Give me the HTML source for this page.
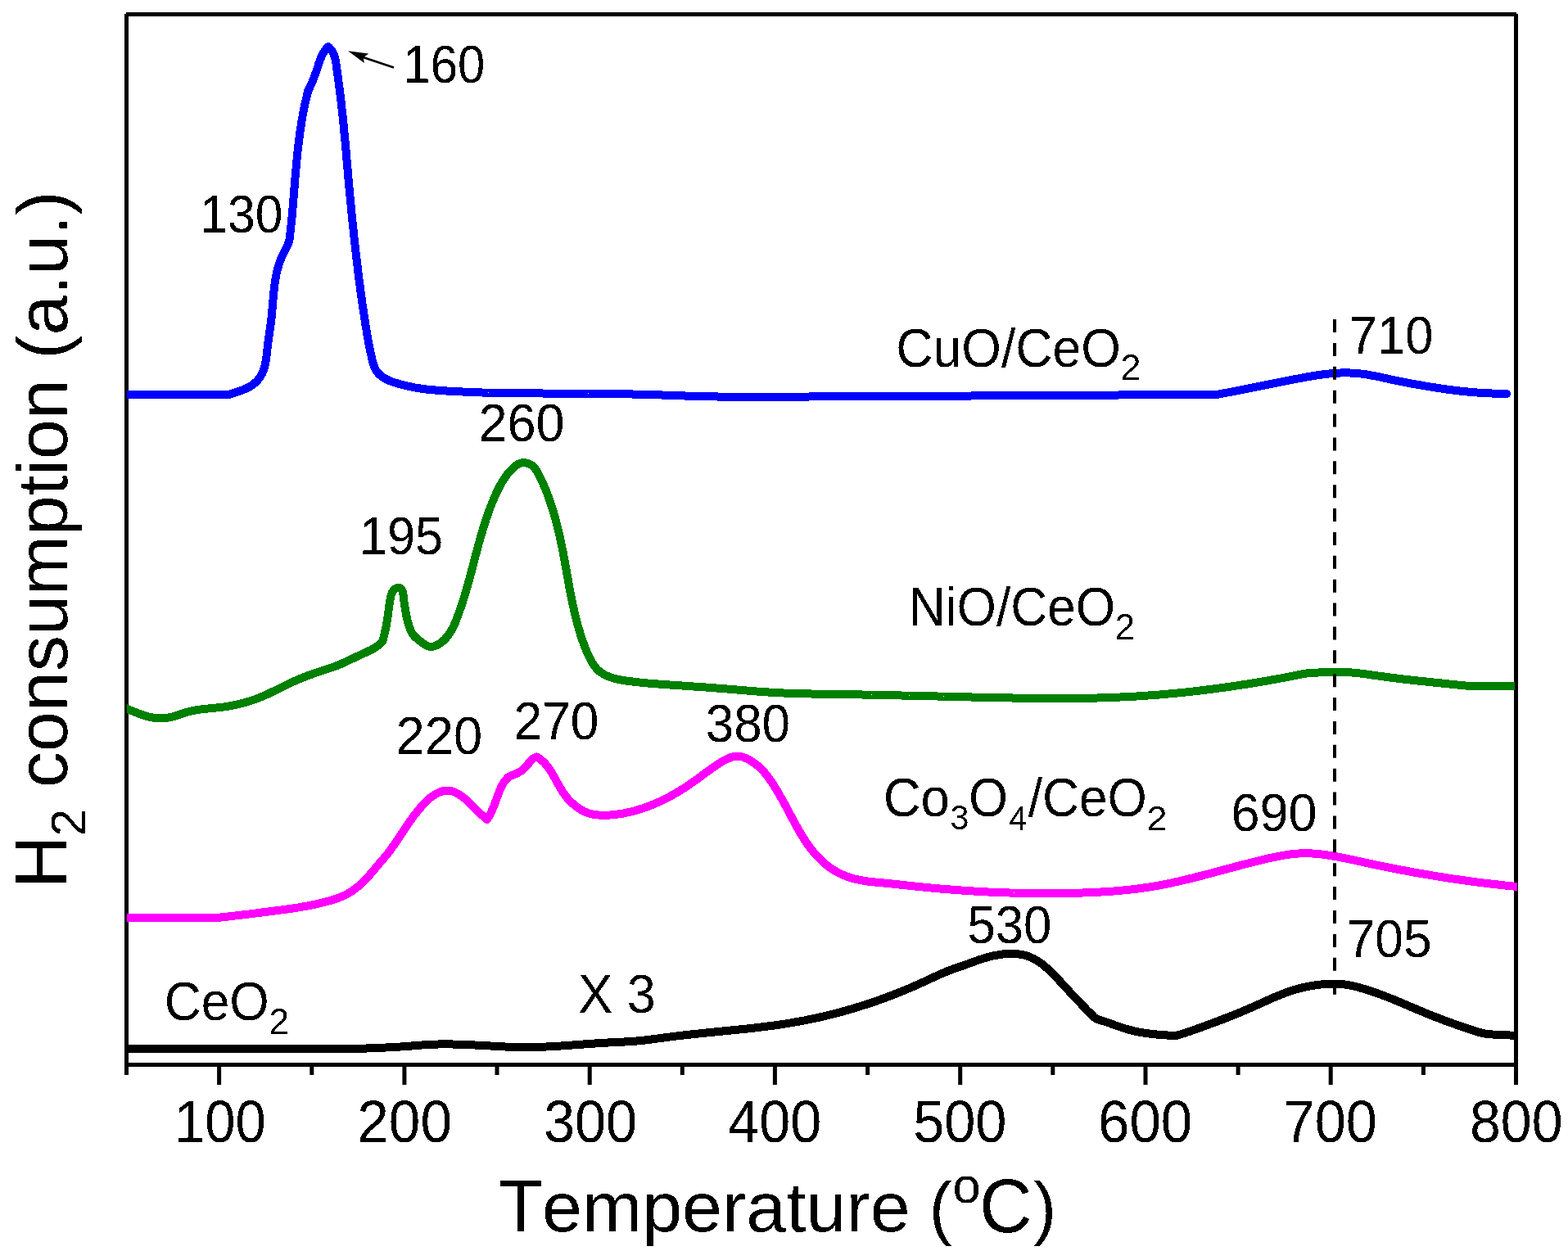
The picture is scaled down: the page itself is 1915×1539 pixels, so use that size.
<!DOCTYPE html>
<html><head><meta charset="utf-8"><title>H2-TPR</title>
<style>html,body{margin:0;padding:0;background:#fff;overflow:hidden}svg{display:block}</style>
</head><body>
<svg width="1915" height="1539" viewBox="0 0 1915 1539">
<rect width="1915" height="1539" fill="#fff"/>
<defs><filter id="bin" filterUnits="userSpaceOnUse" x="0" y="0" width="1915" height="1539"><feComponentTransfer><feFuncA type="discrete" tableValues="0 1"/></feComponentTransfer></filter><clipPath id="c"><rect x="154.8" y="15" width="1698.7" height="1288"/></clipPath></defs>
<g fill="#000">
<rect x="152" y="17" width="5" height="1296"/>
<rect x="1849" y="17" width="5" height="1308"/>
<rect x="154" y="15" width="1698" height="5"/>
<rect x="152" y="1298" width="1702" height="5"/>
<rect x="265.1" y="1300" width="5" height="25"/>
<rect x="491.4" y="1300" width="5" height="25"/>
<rect x="717.7" y="1300" width="5" height="25"/>
<rect x="943.9" y="1300" width="5" height="25"/>
<rect x="1170.2" y="1300" width="5" height="25"/>
<rect x="1396.5" y="1300" width="5" height="25"/>
<rect x="1622.7" y="1300" width="5" height="25"/>
<rect x="378.3" y="1300" width="5" height="13"/>
<rect x="604.5" y="1300" width="5" height="13"/>
<rect x="830.8" y="1300" width="5" height="13"/>
<rect x="1057.1" y="1300" width="5" height="13"/>
<rect x="1283.3" y="1300" width="5" height="13"/>
<rect x="1509.6" y="1300" width="5" height="13"/>
<rect x="1735.9" y="1300" width="5" height="13"/>
</g>
<g fill="none" stroke-width="10" stroke-linejoin="round" stroke-linecap="butt" clip-path="url(#c)" shape-rendering="crispEdges">
<path d="M150.0,481.8 152.0,481.8 153.9,481.8 155.9,481.8 157.9,481.8 159.8,481.8 161.8,481.8 163.8,481.8 165.8,481.8 167.7,481.8 169.7,481.8 171.7,481.8 173.6,481.8 175.6,481.8 177.6,481.8 179.5,481.8 181.5,481.8 183.5,481.8 185.5,481.8 187.4,481.8 189.4,481.8 191.4,481.8 193.3,481.8 195.3,481.8 197.3,481.8 199.2,481.8 201.2,481.8 203.2,481.8 205.2,481.8 207.1,481.8 209.1,481.8 211.1,481.8 213.0,481.8 215.0,481.8 217.0,481.8 218.9,481.8 220.9,481.8 222.9,481.8 224.8,481.8 226.8,481.8 228.8,481.8 230.8,481.8 232.7,481.8 234.7,481.8 236.7,481.8 238.6,481.8 240.6,481.8 242.6,481.8 244.5,481.8 246.5,481.8 248.5,481.8 250.5,481.8 252.4,481.8 254.4,481.8 256.4,481.8 258.3,481.8 260.3,481.8 262.3,481.8 264.2,481.8 266.2,481.8 268.2,481.8 270.2,481.8 272.1,481.8 274.1,481.8 276.1,481.8 278.0,481.8 280.0,481.8 281.8,481.2 283.7,480.6 285.5,480.0 287.4,479.4 289.3,478.8 291.2,478.2 293.1,477.5 295.1,476.8 296.9,476.1 298.8,475.3 300.7,474.5 302.5,473.6 304.2,472.7 305.9,471.7 307.6,470.6 309.2,469.5 310.7,468.2 312.2,466.9 313.6,465.6 314.9,464.1 316.2,462.6 317.3,461.0 318.4,459.4 319.3,457.7 320.2,456.0 321.0,454.2 321.7,452.4 322.3,450.5 322.9,448.6 323.4,446.7 323.9,444.8 324.3,442.9 324.6,440.9 324.9,438.9 325.2,436.9 325.5,435.0 325.7,433.0 326.0,431.0 326.2,429.0 326.4,427.0 326.6,425.0 326.8,423.0 327.1,421.0 327.3,419.0 327.6,417.0 327.8,415.1 328.1,413.1 328.4,411.1 328.7,409.2 329.0,407.2 329.2,405.3 329.5,403.3 329.8,401.4 330.1,399.4 330.4,397.5 330.6,395.5 330.9,393.6 331.1,391.6 331.3,389.7 331.6,387.7 331.8,385.7 332.0,383.8 332.2,381.8 332.3,379.8 332.5,377.8 332.7,375.9 332.9,373.9 333.0,371.9 333.2,369.9 333.4,367.9 333.5,366.0 333.7,364.0 333.9,362.0 334.1,360.0 334.2,358.0 334.4,356.1 334.7,354.1 334.9,352.1 335.1,350.1 335.4,348.2 335.6,346.2 335.9,344.2 336.2,342.3 336.5,340.3 336.9,338.4 337.3,336.4 337.6,334.5 338.1,332.6 338.5,330.6 339.0,328.7 339.5,326.8 340.1,324.9 340.6,323.0 341.3,321.2 341.9,319.3 342.6,317.5 343.4,315.6 344.2,313.8 345.0,312.0 345.9,310.2 346.8,308.4 347.7,306.7 348.5,304.9 349.4,303.1 350.3,301.3 351.1,299.5 351.9,297.7 352.6,295.9 353.3,294.0 353.6,292.0 353.8,290.1 354.0,288.1 354.3,286.1 354.5,284.1 354.7,282.2 355.0,280.2 355.2,278.2 355.4,276.3 355.6,274.3 355.8,272.3 356.0,270.3 356.2,268.3 356.4,266.4 356.6,264.4 356.7,262.4 356.9,260.4 357.1,258.5 357.3,256.5 357.5,254.5 357.6,252.5 357.8,250.5 358.0,248.6 358.1,246.6 358.3,244.6 358.5,242.6 358.6,240.6 358.8,238.7 358.9,236.7 359.1,234.7 359.3,232.7 359.4,230.7 359.6,228.8 359.7,226.8 359.9,224.8 360.1,222.8 360.2,220.8 360.4,218.8 360.5,216.9 360.7,214.9 360.9,212.9 361.0,210.9 361.2,208.9 361.4,207.0 361.6,205.0 361.7,203.0 361.9,201.0 362.1,199.1 362.3,197.1 362.5,195.1 362.7,193.1 362.9,191.2 363.1,189.2 363.3,187.2 363.5,185.2 363.7,183.3 363.9,181.3 364.2,179.3 364.4,177.3 364.6,175.4 364.9,173.4 365.1,171.4 365.4,169.5 365.6,167.5 365.9,165.5 366.1,163.6 366.4,161.6 366.7,159.6 367.0,157.7 367.3,155.7 367.6,153.7 367.9,151.8 368.2,149.8 368.5,147.9 368.9,145.9 369.2,144.0 369.5,142.0 369.9,140.0 370.3,138.1 370.6,136.1 371.0,134.2 371.4,132.2 371.8,130.3 372.2,128.4 372.6,126.4 373.0,124.5 373.5,122.5 373.9,120.6 374.4,118.6 374.8,116.7 375.3,114.8 375.8,112.8 376.3,110.9 377.2,109.1 378.1,107.3 378.9,105.5 379.7,103.7 380.5,101.9 381.3,100.1 382.1,98.2 382.8,96.4 383.5,94.5 384.2,92.7 384.9,90.8 385.6,88.9 386.3,87.1 386.9,85.2 387.6,83.3 388.2,81.4 388.8,79.5 389.4,77.6 390.1,75.7 390.7,73.8 391.4,72.0 392.2,70.1 393.0,68.3 393.8,66.6 394.8,64.8 395.8,63.2 396.9,61.5 398.1,60.0 399.4,58.4 400.8,57.0 402.4,58.4 403.7,59.9 405.0,61.4 406.0,63.1 406.9,64.8 407.7,66.5 408.4,68.4 408.9,70.2 409.4,72.1 409.8,74.1 410.2,76.0 410.5,78.0 410.8,80.0 411.0,82.0 411.3,84.0 411.6,86.0 411.9,88.0 412.1,90.0 412.4,92.0 412.7,94.0 413.0,95.9 413.3,97.9 413.5,99.9 413.8,101.9 414.1,103.9 414.3,105.9 414.6,107.8 414.8,109.8 415.1,111.8 415.3,113.8 415.6,115.8 415.8,117.8 416.1,119.7 416.3,121.7 416.5,123.7 416.8,125.7 417.0,127.7 417.2,129.7 417.4,131.7 417.6,133.6 417.9,135.6 418.1,137.6 418.3,139.6 418.5,141.6 418.7,143.6 418.9,145.6 419.1,147.5 419.3,149.5 419.5,151.5 419.7,153.5 419.9,155.5 420.1,157.5 420.3,159.5 420.4,161.5 420.6,163.4 420.8,165.4 421.0,167.4 421.2,169.4 421.4,171.4 421.6,173.4 421.7,175.4 421.9,177.4 422.1,179.4 422.3,181.4 422.5,183.4 422.6,185.3 422.8,187.3 423.0,189.3 423.2,191.3 423.3,193.3 423.5,195.3 423.7,197.3 423.9,199.3 424.0,201.3 424.2,203.3 424.4,205.3 424.6,207.3 424.7,209.2 424.9,211.2 425.1,213.2 425.3,215.2 425.4,217.2 425.6,219.2 425.8,221.2 426.0,223.2 426.2,225.2 426.3,227.2 426.5,229.2 426.7,231.2 426.9,233.1 427.1,235.1 427.2,237.1 427.4,239.1 427.6,241.1 427.8,243.1 428.0,245.1 428.2,247.1 428.4,249.1 428.6,251.1 428.8,253.1 429.0,255.0 429.2,257.0 429.3,259.0 429.5,261.0 429.7,263.0 429.9,265.0 430.1,267.0 430.3,269.0 430.5,271.0 430.8,272.9 431.0,274.9 431.2,276.9 431.4,278.9 431.6,280.9 431.8,282.9 432.0,284.9 432.2,286.9 432.4,288.8 432.6,290.8 432.9,292.8 433.1,294.8 433.3,296.8 433.5,298.8 433.7,300.8 434.0,302.8 434.2,304.7 434.4,306.7 434.6,308.7 434.9,310.7 435.1,312.7 435.3,314.7 435.5,316.7 435.8,318.6 436.0,320.6 436.2,322.6 436.5,324.6 436.7,326.6 437.0,328.6 437.2,330.5 437.4,332.5 437.7,334.5 437.9,336.5 438.2,338.5 438.4,340.5 438.7,342.4 438.9,344.4 439.2,346.4 439.5,348.4 439.7,350.4 440.0,352.3 440.2,354.3 440.5,356.3 440.8,358.3 441.0,360.3 441.3,362.2 441.6,364.2 441.9,366.2 442.1,368.2 442.4,370.2 442.7,372.1 443.0,374.1 443.3,376.1 443.6,378.1 443.9,380.0 444.2,382.0 444.5,384.0 444.8,386.0 445.1,387.9 445.4,389.9 445.7,391.9 446.0,393.9 446.3,395.8 446.6,397.8 446.9,399.8 447.3,401.8 447.6,403.7 447.9,405.7 448.2,407.7 448.6,409.6 448.9,411.6 449.3,413.6 449.6,415.5 450.0,417.5 450.4,419.5 450.8,421.5 451.1,423.4 451.5,425.4 451.9,427.4 452.3,429.3 452.7,431.3 453.2,433.3 453.6,435.2 454.0,437.2 454.5,439.2 455.0,441.1 455.5,443.1 456.1,445.0 456.7,446.9 457.4,448.7 458.2,450.4 459.2,452.1 460.2,453.7 461.4,455.2 462.6,456.6 464.0,458.0 465.5,459.2 467.1,460.4 468.7,461.5 470.4,462.5 472.2,463.5 474.0,464.3 475.9,465.1 477.7,465.9 479.7,466.5 481.6,467.2 483.5,467.8 485.5,468.3 487.5,468.9 489.4,469.4 491.4,469.9 493.3,470.4 495.2,470.9 497.2,471.4 499.1,471.9 501.1,472.3 503.0,472.7 505.0,473.1 506.9,473.5 508.9,473.8 510.9,474.1 512.8,474.4 514.8,474.7 516.8,475.0 518.7,475.2 520.7,475.5 522.7,475.7 524.7,475.9 526.7,476.1 528.7,476.3 530.7,476.4 532.6,476.6 534.6,476.8 536.6,476.9 538.6,477.0 540.6,477.2 542.6,477.3 544.6,477.4 546.6,477.6 548.6,477.7 550.6,477.8 552.6,477.9 554.6,478.0 556.6,478.1 558.6,478.3 560.6,478.4 562.6,478.4 564.6,478.5 566.5,478.6 568.5,478.7 570.5,478.8 572.5,478.9 574.5,479.0 576.5,479.1 578.5,479.1 580.5,479.2 582.5,479.3 584.5,479.3 586.5,479.4 588.5,479.5 590.5,479.5 592.5,479.6 594.5,479.6 596.5,479.7 598.5,479.7 600.5,479.8 602.5,479.8 604.5,479.9 606.5,479.9 608.5,479.9 610.5,480.0 612.5,480.0 614.5,480.0 616.5,480.1 618.5,480.1 620.5,480.1 622.5,480.2 624.5,480.2 626.5,480.2 628.5,480.2 630.5,480.3 632.5,480.3 634.5,480.3 636.5,480.3 638.5,480.3 640.5,480.3 642.5,480.4 644.5,480.4 646.5,480.4 648.5,480.4 650.5,480.4 652.5,480.4 654.5,480.4 656.5,480.4 658.5,480.4 660.5,480.4 662.5,480.5 664.5,480.5 666.5,480.5 668.5,480.5 670.5,480.5 672.5,480.5 674.5,480.5 676.5,480.5 678.5,480.5 680.5,480.5 682.5,480.5 684.5,480.5 686.5,480.5 688.5,480.5 690.5,480.5 692.5,480.5 694.5,480.5 696.5,480.5 698.5,480.5 700.5,480.6 702.5,480.6 704.5,480.6 706.5,480.6 708.5,480.6 710.5,480.6 712.5,480.6 714.5,480.6 716.5,480.6 718.5,480.7 720.4,480.7 722.4,480.7 724.4,480.7 726.4,480.7 728.4,480.7 730.4,480.8 732.4,480.8 734.4,480.8 736.4,480.8 738.4,480.9 740.4,480.9 742.4,480.9 744.4,480.9 746.4,481.0 748.4,481.0 750.4,481.0 752.4,481.1 754.4,481.1 756.4,481.1 758.4,481.2 760.4,481.2 762.4,481.3 764.4,481.3 766.4,481.3 768.4,481.4 770.4,481.4 772.4,481.5 774.4,481.5 776.4,481.6 778.4,481.6 780.4,481.7 782.4,481.7 784.4,481.8 786.4,481.8 788.4,481.9 790.4,481.9 792.4,482.0 794.4,482.0 796.4,482.1 798.4,482.2 800.4,482.2 802.4,482.3 804.4,482.4 806.4,482.4 808.4,482.5 810.4,482.5 812.4,482.6 814.4,482.7 816.4,482.8 818.4,482.8 820.4,482.9 822.4,483.0 824.4,483.1 826.4,483.1 828.3,483.2 830.3,483.3 832.3,483.4 834.3,483.4 836.3,483.5 838.3,483.6 840.3,483.6 842.3,483.7 844.3,483.8 846.3,483.8 848.3,483.9 850.3,484.0 852.3,484.0 854.3,484.1 856.3,484.1 858.3,484.2 860.3,484.2 862.3,484.3 864.3,484.3 866.3,484.3 868.3,484.4 870.3,484.4 872.3,484.4 874.3,484.4 876.3,484.5 878.3,484.5 880.3,484.5 882.3,484.5 884.3,484.5 886.3,484.5 888.3,484.5 890.3,484.5 892.3,484.5 894.3,484.5 896.3,484.6 898.3,484.6 900.3,484.6 902.3,484.6 904.3,484.6 906.3,484.6 908.3,484.6 910.3,484.6 912.3,484.6 914.3,484.6 916.3,484.6 918.3,484.6 920.3,484.6 922.3,484.6 924.3,484.6 926.3,484.6 928.3,484.6 930.3,484.6 932.3,484.6 934.3,484.6 936.3,484.6 938.3,484.6 940.3,484.6 942.3,484.6 944.3,484.6 946.3,484.6 948.3,484.5 950.3,484.5 952.3,484.5 954.3,484.5 956.3,484.5 958.3,484.5 960.3,484.5 962.3,484.5 964.3,484.5 966.3,484.5 968.3,484.5 970.3,484.5 972.3,484.5 974.3,484.5 976.3,484.5 978.3,484.5 980.3,484.5 982.3,484.5 984.3,484.5 986.2,484.5 988.2,484.5 990.2,484.4 992.2,484.4 994.2,484.4 996.2,484.4 998.2,484.4 1000.2,484.4 1002.2,484.4 1004.2,484.4 1006.2,484.4 1008.2,484.4 1010.2,484.4 1012.2,484.4 1014.2,484.4 1016.2,484.4 1018.2,484.3 1020.2,484.3 1022.2,484.3 1024.2,484.3 1026.2,484.3 1028.2,484.3 1030.2,484.3 1032.2,484.3 1034.2,484.3 1036.2,484.3 1038.2,484.3 1040.2,484.2 1042.2,484.2 1044.2,484.2 1046.2,484.2 1048.2,484.2 1050.2,484.2 1052.2,484.2 1054.2,484.2 1056.2,484.2 1058.2,484.2 1060.2,484.2 1062.2,484.1 1064.2,484.1 1066.2,484.1 1068.2,484.1 1070.2,484.1 1072.2,484.1 1074.2,484.1 1076.2,484.1 1078.2,484.1 1080.2,484.0 1082.2,484.0 1084.2,484.0 1086.2,484.0 1088.2,484.0 1090.2,484.0 1092.2,484.0 1094.2,484.0 1096.2,484.0 1098.2,484.0 1100.2,483.9 1102.2,483.9 1104.2,483.9 1106.2,483.9 1108.2,483.9 1110.2,483.9 1112.2,483.9 1114.2,483.9 1116.2,483.9 1118.2,483.8 1120.2,483.8 1122.2,483.8 1124.2,483.8 1126.2,483.8 1128.2,483.8 1130.2,483.8 1132.2,483.8 1134.2,483.8 1136.2,483.7 1138.2,483.7 1140.2,483.7 1142.2,483.7 1144.2,483.7 1146.2,483.7 1148.2,483.7 1150.2,483.7 1152.2,483.6 1154.2,483.6 1156.2,483.6 1158.2,483.6 1160.2,483.6 1162.2,483.6 1164.2,483.6 1166.2,483.6 1168.2,483.6 1170.2,483.5 1172.2,483.5 1174.2,483.5 1176.2,483.5 1178.2,483.5 1180.2,483.5 1182.2,483.5 1184.2,483.5 1186.2,483.5 1188.2,483.4 1190.1,483.4 1192.1,483.4 1194.1,483.4 1196.1,483.4 1198.1,483.4 1200.1,483.4 1202.1,483.4 1204.1,483.3 1206.1,483.3 1208.1,483.3 1210.1,483.3 1212.1,483.3 1214.1,483.3 1216.1,483.3 1218.1,483.3 1220.1,483.3 1222.1,483.2 1224.1,483.2 1226.1,483.2 1228.1,483.2 1230.1,483.2 1232.1,483.2 1234.1,483.2 1236.1,483.2 1238.1,483.1 1240.1,483.1 1242.1,483.1 1244.1,483.1 1246.1,483.1 1248.1,483.1 1250.1,483.1 1252.1,483.1 1254.1,483.1 1256.1,483.0 1258.1,483.0 1260.1,483.0 1262.1,483.0 1264.1,483.0 1266.1,483.0 1268.1,483.0 1270.1,483.0 1272.1,483.0 1274.1,482.9 1276.1,482.9 1278.1,482.9 1280.1,482.9 1282.1,482.9 1284.1,482.9 1286.1,482.9 1288.1,482.9 1290.1,482.9 1292.1,482.8 1294.1,482.8 1296.1,482.8 1298.1,482.8 1300.1,482.8 1302.1,482.8 1304.1,482.8 1306.1,482.8 1308.1,482.8 1310.1,482.7 1312.1,482.7 1314.1,482.7 1316.1,482.7 1318.1,482.7 1320.1,482.7 1322.1,482.7 1324.1,482.7 1326.1,482.7 1328.1,482.6 1330.1,482.6 1332.1,482.6 1334.1,482.6 1336.1,482.6 1338.1,482.6 1340.1,482.6 1342.1,482.6 1344.1,482.6 1346.1,482.6 1348.1,482.5 1350.1,482.5 1352.1,482.5 1354.1,482.5 1356.1,482.5 1358.1,482.5 1360.1,482.5 1362.1,482.5 1364.1,482.5 1366.1,482.5 1368.1,482.4 1370.1,482.4 1372.1,482.4 1374.1,482.4 1376.1,482.4 1378.1,482.4 1380.1,482.4 1382.1,482.4 1384.1,482.4 1386.0,482.4 1388.0,482.4 1390.0,482.3 1392.0,482.3 1394.0,482.3 1396.0,482.3 1398.0,482.3 1400.0,482.3 1402.0,482.3 1404.0,482.3 1406.0,482.3 1408.0,482.3 1410.0,482.3 1412.0,482.3 1414.0,482.2 1416.0,482.2 1418.0,482.2 1420.0,482.2 1422.0,482.2 1424.0,482.2 1426.0,482.2 1428.0,482.2 1430.0,482.2 1432.0,482.2 1434.0,482.2 1436.0,482.2 1438.0,482.2 1440.0,482.1 1442.0,482.1 1444.0,482.1 1446.0,482.1 1448.0,482.1 1450.0,482.1 1452.0,482.1 1454.0,482.1 1456.0,482.1 1458.0,482.1 1460.0,482.1 1462.0,482.1 1464.0,482.1 1466.0,482.1 1468.0,482.1 1470.0,482.0 1472.0,482.0 1474.0,482.0 1476.0,482.0 1478.0,482.0 1480.0,482.0 1482.0,482.0 1484.0,482.0 1486.0,482.0 1488.0,481.6 1489.9,481.3 1491.9,480.9 1493.8,480.5 1495.8,480.1 1497.8,479.7 1499.7,479.4 1501.7,479.0 1503.6,478.6 1505.6,478.2 1507.5,477.8 1509.5,477.5 1511.5,477.1 1513.4,476.7 1515.4,476.3 1517.3,475.9 1519.3,475.5 1521.2,475.1 1523.2,474.7 1525.1,474.4 1527.1,474.0 1529.0,473.6 1531.0,473.2 1532.9,472.8 1534.8,472.4 1536.8,472.0 1538.7,471.6 1540.7,471.2 1542.6,470.8 1544.6,470.5 1546.5,470.1 1548.5,469.7 1550.4,469.3 1552.4,468.9 1554.3,468.5 1556.3,468.1 1558.2,467.7 1560.2,467.3 1562.1,467.0 1564.1,466.6 1566.1,466.2 1568.0,465.8 1570.0,465.4 1571.9,465.0 1573.9,464.6 1575.8,464.3 1577.8,463.9 1579.8,463.5 1581.7,463.1 1583.7,462.7 1585.6,462.4 1587.6,462.0 1589.6,461.6 1591.5,461.3 1593.5,460.9 1595.5,460.5 1597.5,460.2 1599.4,459.8 1601.4,459.5 1603.4,459.2 1605.3,458.8 1607.3,458.5 1609.3,458.2 1611.3,457.9 1613.2,457.7 1615.2,457.4 1617.2,457.2 1619.2,456.9 1621.1,456.7 1623.1,456.5 1625.1,456.3 1627.1,456.1 1629.0,456.0 1631.0,455.8 1633.0,455.7 1635.0,455.6 1636.9,455.5 1638.9,455.4 1640.9,455.4 1642.9,455.4 1644.9,455.4 1646.8,455.4 1648.8,455.5 1650.8,455.6 1652.7,455.7 1654.7,455.8 1656.7,455.9 1658.7,456.1 1660.6,456.3 1662.6,456.6 1664.6,456.8 1666.5,457.1 1668.5,457.4 1670.5,457.7 1672.4,458.0 1674.4,458.4 1676.4,458.8 1678.3,459.1 1680.3,459.5 1682.3,459.9 1684.2,460.3 1686.2,460.7 1688.2,461.1 1690.1,461.6 1692.1,462.0 1694.0,462.4 1696.0,462.8 1698.0,463.3 1699.9,463.7 1701.9,464.1 1703.8,464.5 1705.8,464.9 1707.8,465.3 1709.7,465.7 1711.7,466.1 1713.6,466.5 1715.6,466.9 1717.5,467.3 1719.5,467.7 1721.4,468.0 1723.4,468.4 1725.3,468.8 1727.3,469.1 1729.3,469.5 1731.2,469.8 1733.2,470.2 1735.1,470.5 1737.1,470.8 1739.0,471.2 1741.0,471.5 1743.0,471.8 1744.9,472.1 1746.9,472.5 1748.9,472.8 1750.8,473.1 1752.8,473.4 1754.7,473.7 1756.7,474.0 1758.7,474.3 1760.7,474.6 1762.6,474.9 1764.6,475.2 1766.6,475.5 1768.5,475.7 1770.5,476.0 1772.5,476.3 1774.5,476.5 1776.4,476.8 1778.4,477.0 1780.4,477.3 1782.4,477.5 1784.4,477.7 1786.3,477.9 1788.3,478.1 1790.3,478.3 1792.3,478.5 1794.3,478.7 1796.2,478.9 1798.2,479.1 1800.2,479.2 1802.2,479.4 1804.2,479.5 1806.2,479.7 1808.2,479.8 1810.1,479.9 1812.1,480.0 1814.1,480.2 1816.1,480.3 1818.1,480.4 1820.1,480.4 1822.1,480.5 1824.1,480.6 1826.1,480.7 1828.0,480.7 1830.0,480.8 1832.0,480.8 1834.0,480.9 1836.0,480.9 1838.0,481.0 1840.0,481.0" stroke="#0000ff" stroke-linecap="round"/>
<path d="M150.0,863.6 151.8,864.3 153.6,865.1 155.5,865.8 157.3,866.6 159.2,867.4 161.0,868.2 162.9,868.9 164.7,869.7 166.6,870.5 168.5,871.2 170.4,871.9 172.3,872.6 174.2,873.3 176.1,873.9 178.0,874.5 179.9,875.0 181.8,875.5 183.8,876.0 185.7,876.3 187.7,876.7 189.6,876.9 191.6,877.1 193.6,877.3 195.6,877.3 197.6,877.3 199.5,877.2 201.5,877.0 203.5,876.8 205.5,876.5 207.5,876.1 209.4,875.7 211.4,875.2 213.3,874.7 215.2,874.1 217.1,873.5 219.0,872.9 220.9,872.2 222.8,871.6 224.7,871.0 226.6,870.3 228.5,869.8 230.4,869.2 232.3,868.8 234.2,868.3 236.2,867.9 238.1,867.6 240.1,867.2 242.1,866.9 244.1,866.6 246.0,866.4 248.0,866.2 250.0,865.9 252.0,865.7 254.0,865.5 256.0,865.3 258.0,865.1 260.0,864.9 262.0,864.7 264.0,864.5 266.0,864.3 268.0,864.1 269.9,863.9 271.9,863.6 273.9,863.4 275.9,863.1 277.9,862.8 279.8,862.4 281.8,862.1 283.8,861.7 285.7,861.3 287.7,860.9 289.6,860.5 291.6,860.1 293.5,859.6 295.5,859.1 297.4,858.6 299.3,858.0 301.2,857.5 303.1,856.9 305.0,856.3 306.9,855.7 308.8,855.1 310.7,854.4 312.6,853.7 314.4,853.0 316.3,852.3 318.2,851.6 320.0,850.8 321.8,850.0 323.7,849.2 325.5,848.4 327.3,847.6 329.1,846.7 330.9,845.9 332.7,845.0 334.5,844.1 336.3,843.3 338.1,842.4 339.9,841.5 341.7,840.6 343.5,839.7 345.3,838.8 347.1,837.9 348.9,837.0 350.7,836.2 352.5,835.3 354.3,834.4 356.1,833.6 357.9,832.7 359.7,831.9 361.6,831.1 363.4,830.3 365.2,829.5 367.1,828.8 368.9,828.0 370.8,827.3 372.6,826.5 374.5,825.8 376.4,825.1 378.2,824.4 380.1,823.8 382.0,823.1 383.9,822.4 385.8,821.8 387.7,821.1 389.6,820.5 391.5,819.8 393.4,819.2 395.3,818.6 397.2,817.9 399.1,817.3 401.0,816.7 402.9,816.1 404.7,815.4 406.6,814.8 408.5,814.1 410.4,813.4 412.3,812.7 414.1,812.0 416.0,811.2 417.8,810.4 419.6,809.6 421.4,808.8 423.2,807.9 425.0,807.1 426.8,806.2 428.6,805.3 430.4,804.5 432.2,803.6 434.0,802.7 435.9,801.9 437.7,801.1 439.5,800.2 441.3,799.4 443.1,798.5 444.9,797.7 446.8,796.9 448.6,796.0 450.4,795.1 452.2,794.3 453.9,793.4 455.7,792.4 457.4,791.4 459.1,790.4 460.8,789.3 462.4,788.1 463.9,786.8 465.4,785.5 466.8,784.0 467.4,782.1 468.0,780.2 468.5,778.2 469.0,776.3 469.5,774.4 470.0,772.5 470.4,770.5 470.8,768.6 471.2,766.7 471.6,764.8 472.0,762.8 472.3,760.9 472.6,759.0 473.0,757.0 473.3,755.1 473.6,753.1 473.8,751.1 474.1,749.2 474.4,747.2 474.6,745.2 474.9,743.2 475.1,741.2 475.4,739.2 475.7,737.2 476.0,735.2 476.3,733.2 476.7,731.3 477.1,729.3 477.6,727.4 478.2,725.5 478.9,723.7 479.8,722.1 480.9,720.6 482.3,719.3 484.0,718.3 486.0,717.5 488.2,718.2 489.8,719.3 491.0,720.7 491.7,722.4 492.2,724.2 492.5,726.2 492.7,728.2 492.9,730.3 493.1,732.3 493.4,734.3 493.7,736.3 494.0,738.3 494.3,740.3 494.6,742.3 494.9,744.2 495.2,746.2 495.6,748.2 496.0,750.1 496.3,752.1 496.8,754.0 497.2,756.0 497.7,757.9 498.2,759.8 498.7,761.8 499.3,763.7 499.9,765.6 500.6,767.5 501.3,769.4 502.2,771.2 503.1,772.9 504.1,774.6 505.3,776.2 506.6,777.6 508.0,779.0 509.5,780.3 511.1,781.6 512.8,782.8 514.5,784.0 516.2,785.3 517.9,786.5 519.6,787.7 521.4,788.7 523.2,789.5 525.0,789.9 526.9,790.0 528.8,789.8 530.7,789.2 532.6,788.5 534.5,787.6 536.3,786.5 537.9,785.4 539.6,784.2 541.1,782.9 542.5,781.6 543.9,780.2 545.2,778.7 546.5,777.2 547.7,775.6 548.8,774.0 549.9,772.4 550.9,770.7 551.9,768.9 552.8,767.2 553.7,765.4 554.6,763.6 555.4,761.7 556.2,759.9 556.9,758.0 557.7,756.1 558.4,754.2 559.1,752.3 559.8,750.4 560.5,748.5 561.2,746.6 561.8,744.8 562.5,742.9 563.1,741.0 563.8,739.1 564.4,737.2 565.0,735.3 565.6,733.4 566.2,731.5 566.8,729.6 567.4,727.7 568.0,725.8 568.5,723.9 569.1,721.9 569.6,720.0 570.2,718.1 570.7,716.2 571.3,714.3 571.8,712.4 572.3,710.5 572.9,708.5 573.4,706.6 573.9,704.7 574.4,702.8 575.0,700.8 575.5,698.9 576.0,697.0 576.5,695.0 577.0,693.1 577.5,691.2 578.0,689.2 578.5,687.3 579.0,685.4 579.5,683.4 580.1,681.5 580.6,679.6 581.1,677.6 581.6,675.7 582.1,673.8 582.6,671.8 583.1,669.9 583.7,668.0 584.2,666.0 584.7,664.1 585.3,662.2 585.8,660.2 586.3,658.3 586.9,656.4 587.4,654.5 588.0,652.5 588.6,650.6 589.1,648.7 589.7,646.8 590.3,644.9 590.9,643.0 591.5,641.1 592.1,639.2 592.7,637.3 593.3,635.4 593.9,633.5 594.6,631.6 595.2,629.7 595.9,627.8 596.6,625.9 597.2,624.0 597.9,622.2 598.6,620.3 599.3,618.4 600.1,616.6 600.8,614.7 601.6,612.8 602.3,611.0 603.1,609.1 603.9,607.3 604.7,605.5 605.5,603.7 606.3,601.8 607.2,600.0 608.1,598.2 609.0,596.4 609.9,594.7 610.8,592.9 611.8,591.2 612.8,589.4 613.8,587.7 614.9,586.1 616.0,584.4 617.1,582.8 618.3,581.1 619.5,579.5 620.8,578.0 622.1,576.4 623.4,574.9 624.8,573.4 626.2,572.0 627.7,570.6 629.2,569.3 630.8,568.2 632.4,567.1 634.2,566.3 636.0,565.7 637.8,565.3 639.8,565.2 641.8,565.3 643.9,565.8 645.9,566.5 647.9,567.3 649.6,568.4 651.2,569.6 652.6,571.0 653.8,572.5 654.8,574.2 655.8,575.9 656.8,577.6 657.7,579.4 658.6,581.1 659.5,582.9 660.4,584.6 661.2,586.4 662.1,588.2 662.9,590.0 663.7,591.8 664.5,593.7 665.3,595.5 666.1,597.3 666.8,599.2 667.6,601.1 668.3,602.9 669.0,604.8 669.7,606.7 670.4,608.6 671.1,610.5 671.7,612.4 672.4,614.3 673.0,616.2 673.6,618.1 674.2,620.0 674.8,621.9 675.4,623.8 676.0,625.8 676.5,627.7 677.1,629.6 677.6,631.5 678.2,633.5 678.7,635.4 679.2,637.3 679.7,639.3 680.2,641.2 680.7,643.1 681.2,645.1 681.7,647.0 682.1,649.0 682.6,650.9 683.0,652.8 683.5,654.8 683.9,656.7 684.3,658.7 684.8,660.6 685.2,662.6 685.6,664.5 686.0,666.5 686.4,668.4 686.8,670.4 687.2,672.3 687.6,674.3 687.9,676.3 688.3,678.2 688.7,680.2 689.0,682.1 689.4,684.1 689.8,686.1 690.1,688.0 690.5,690.0 690.8,692.0 691.2,693.9 691.5,695.9 691.9,697.9 692.3,699.8 692.6,701.8 693.0,703.8 693.3,705.8 693.7,707.7 694.0,709.7 694.4,711.7 694.7,713.6 695.1,715.6 695.4,717.6 695.8,719.5 696.2,721.5 696.6,723.5 696.9,725.4 697.3,727.4 697.7,729.4 698.1,731.3 698.5,733.3 698.9,735.2 699.3,737.2 699.7,739.2 700.1,741.1 700.6,743.1 701.0,745.0 701.4,747.0 701.9,748.9 702.3,750.8 702.8,752.8 703.3,754.7 703.8,756.7 704.3,758.6 704.8,760.5 705.3,762.5 705.8,764.4 706.4,766.3 706.9,768.2 707.5,770.1 708.1,772.1 708.6,774.0 709.2,775.9 709.9,777.8 710.5,779.7 711.1,781.6 711.8,783.5 712.5,785.3 713.2,787.2 713.9,789.1 714.6,791.0 715.3,792.8 716.1,794.7 716.9,796.5 717.7,798.3 718.5,800.2 719.4,802.0 720.3,803.8 721.2,805.6 722.1,807.3 723.1,809.1 724.2,810.8 725.3,812.4 726.4,814.0 727.6,815.5 728.9,817.0 730.3,818.4 731.7,819.7 733.2,820.9 734.9,822.1 736.5,823.1 738.3,824.1 740.1,825.0 742.0,825.8 743.9,826.6 745.8,827.3 747.7,827.9 749.7,828.5 751.7,829.0 753.6,829.5 755.6,829.9 757.5,830.3 759.5,830.7 761.5,831.0 763.4,831.3 765.4,831.6 767.3,831.9 769.3,832.1 771.3,832.4 773.2,832.6 775.2,832.8 777.2,833.1 779.1,833.3 781.1,833.5 783.1,833.7 785.1,833.9 787.1,834.1 789.1,834.3 791.1,834.5 793.0,834.6 795.0,834.8 797.0,835.0 799.0,835.1 801.0,835.3 803.0,835.4 805.0,835.6 807.0,835.7 809.0,835.9 811.0,836.0 813.0,836.2 815.0,836.3 817.0,836.4 819.0,836.6 821.0,836.7 823.0,836.8 825.0,837.0 827.0,837.1 829.0,837.2 831.0,837.4 833.0,837.5 835.0,837.6 837.0,837.8 839.0,837.9 841.0,838.0 843.0,838.2 845.0,838.3 847.0,838.5 849.0,838.6 851.0,838.7 852.9,838.9 854.9,839.0 856.9,839.2 858.9,839.3 860.9,839.4 862.9,839.6 864.9,839.7 866.9,839.9 868.9,840.0 870.9,840.2 872.9,840.3 874.9,840.5 876.8,840.6 878.8,840.8 880.8,840.9 882.8,841.1 884.8,841.3 886.8,841.4 888.8,841.6 890.8,841.8 892.8,841.9 894.8,842.1 896.8,842.3 898.8,842.4 900.7,842.6 902.7,842.8 904.7,842.9 906.7,843.1 908.7,843.3 910.7,843.4 912.7,843.6 914.7,843.8 916.7,843.9 918.7,844.1 920.7,844.2 922.7,844.4 924.7,844.6 926.7,844.7 928.7,844.9 930.7,845.0 932.7,845.1 934.6,845.3 936.6,845.4 938.6,845.5 940.6,845.7 942.6,845.8 944.6,845.9 946.6,846.0 948.6,846.1 950.6,846.3 952.6,846.4 954.6,846.4 956.6,846.5 958.6,846.6 960.6,846.7 962.6,846.8 964.6,846.9 966.6,846.9 968.6,847.0 970.6,847.0 972.6,847.1 974.6,847.2 976.6,847.2 978.6,847.2 980.6,847.3 982.6,847.3 984.6,847.4 986.6,847.4 988.6,847.4 990.6,847.5 992.6,847.5 994.6,847.5 996.6,847.6 998.6,847.6 1000.6,847.6 1002.6,847.7 1004.6,847.7 1006.6,847.7 1008.5,847.7 1010.5,847.8 1012.5,847.8 1014.5,847.8 1016.5,847.9 1018.5,847.9 1020.5,847.9 1022.5,847.9 1024.5,848.0 1026.5,848.0 1028.5,848.0 1030.5,848.1 1032.5,848.1 1034.5,848.1 1036.5,848.2 1038.5,848.2 1040.5,848.2 1042.5,848.3 1044.5,848.3 1046.5,848.3 1048.5,848.4 1050.5,848.4 1052.5,848.5 1054.5,848.5 1056.5,848.5 1058.5,848.6 1060.5,848.6 1062.5,848.6 1064.5,848.7 1066.5,848.7 1068.5,848.8 1070.5,848.8 1072.5,848.9 1074.5,848.9 1076.5,848.9 1078.5,849.0 1080.5,849.0 1082.5,849.1 1084.5,849.1 1086.5,849.1 1088.5,849.2 1090.5,849.2 1092.5,849.3 1094.5,849.3 1096.5,849.4 1098.5,849.4 1100.5,849.5 1102.5,849.5 1104.5,849.5 1106.5,849.6 1108.5,849.6 1110.5,849.7 1112.5,849.7 1114.5,849.8 1116.5,849.8 1118.5,849.9 1120.5,849.9 1122.5,850.0 1124.5,850.0 1126.5,850.1 1128.5,850.1 1130.5,850.2 1132.5,850.2 1134.5,850.2 1136.5,850.3 1138.5,850.3 1140.5,850.4 1142.5,850.4 1144.5,850.5 1146.5,850.5 1148.5,850.6 1150.5,850.6 1152.5,850.7 1154.5,850.7 1156.5,850.8 1158.5,850.8 1160.5,850.9 1162.5,850.9 1164.5,851.0 1166.4,851.0 1168.4,851.1 1170.4,851.1 1172.4,851.2 1174.4,851.2 1176.4,851.3 1178.4,851.3 1180.4,851.4 1182.4,851.4 1184.4,851.4 1186.4,851.5 1188.4,851.5 1190.4,851.6 1192.4,851.6 1194.4,851.7 1196.4,851.7 1198.4,851.8 1200.4,851.8 1202.4,851.8 1204.4,851.9 1206.4,851.9 1208.4,852.0 1210.4,852.0 1212.4,852.0 1214.4,852.1 1216.4,852.1 1218.4,852.2 1220.4,852.2 1222.4,852.2 1224.4,852.3 1226.4,852.3 1228.4,852.3 1230.4,852.4 1232.4,852.4 1234.4,852.4 1236.4,852.5 1238.4,852.5 1240.4,852.5 1242.4,852.6 1244.4,852.6 1246.4,852.6 1248.4,852.7 1250.4,852.7 1252.4,852.7 1254.4,852.7 1256.4,852.8 1258.4,852.8 1260.4,852.8 1262.4,852.8 1264.4,852.8 1266.4,852.9 1268.4,852.9 1270.4,852.9 1272.4,852.9 1274.4,852.9 1276.4,852.9 1278.4,853.0 1280.4,853.0 1282.4,853.0 1284.4,853.0 1286.4,853.0 1288.4,853.0 1290.4,853.0 1292.4,853.0 1294.4,853.0 1296.4,853.0 1298.4,853.0 1300.4,853.0 1302.4,853.0 1304.4,853.0 1306.4,853.0 1308.4,853.0 1310.4,853.0 1312.4,852.9 1314.4,852.9 1316.4,852.9 1318.4,852.9 1320.4,852.9 1322.4,852.8 1324.4,852.8 1326.4,852.8 1328.4,852.7 1330.4,852.7 1332.4,852.7 1334.4,852.6 1336.3,852.6 1338.3,852.5 1340.3,852.5 1342.3,852.4 1344.3,852.4 1346.3,852.3 1348.3,852.3 1350.3,852.2 1352.3,852.1 1354.3,852.1 1356.3,852.0 1358.3,851.9 1360.3,851.8 1362.3,851.8 1364.3,851.7 1366.3,851.6 1368.3,851.5 1370.3,851.4 1372.3,851.3 1374.3,851.2 1376.3,851.1 1378.3,851.0 1380.3,850.9 1382.3,850.8 1384.3,850.7 1386.3,850.6 1388.3,850.5 1390.3,850.3 1392.3,850.2 1394.3,850.1 1396.2,849.9 1398.2,849.8 1400.2,849.7 1402.2,849.5 1404.2,849.4 1406.2,849.2 1408.2,849.1 1410.2,848.9 1412.2,848.8 1414.2,848.6 1416.2,848.5 1418.2,848.3 1420.2,848.1 1422.2,847.9 1424.1,847.8 1426.1,847.6 1428.1,847.4 1430.1,847.2 1432.1,847.0 1434.1,846.9 1436.1,846.7 1438.1,846.5 1440.1,846.3 1442.1,846.1 1444.1,845.9 1446.0,845.7 1448.0,845.5 1450.0,845.2 1452.0,845.0 1454.0,844.8 1456.0,844.6 1458.0,844.4 1460.0,844.1 1461.9,843.9 1463.9,843.7 1465.9,843.5 1467.9,843.2 1469.9,843.0 1471.9,842.7 1473.9,842.5 1475.8,842.2 1477.8,842.0 1479.8,841.7 1481.8,841.5 1483.8,841.2 1485.7,841.0 1487.7,840.7 1489.7,840.4 1491.7,840.2 1493.7,839.9 1495.7,839.6 1497.6,839.3 1499.6,839.1 1501.6,838.8 1503.6,838.5 1505.5,838.2 1507.5,837.9 1509.5,837.6 1511.5,837.3 1513.5,837.0 1515.4,836.7 1517.4,836.4 1519.4,836.1 1521.4,835.8 1523.3,835.5 1525.3,835.2 1527.3,834.9 1529.2,834.6 1531.2,834.2 1533.2,833.9 1535.2,833.6 1537.1,833.3 1539.1,832.9 1541.1,832.6 1543.0,832.3 1545.0,831.9 1547.0,831.6 1549.0,831.2 1550.9,830.9 1552.9,830.5 1554.9,830.2 1556.8,829.8 1558.8,829.5 1560.8,829.1 1562.7,828.7 1564.7,828.4 1566.7,828.0 1568.6,827.6 1570.6,827.3 1572.5,826.9 1574.5,826.5 1576.5,826.1 1578.4,825.7 1580.4,825.3 1582.4,824.9 1584.3,824.6 1586.3,824.2 1588.2,823.8 1590.2,823.4 1592.2,823.0 1594.1,822.7 1596.1,822.4 1598.1,822.1 1600.0,821.9 1602.0,821.7 1604.0,821.6 1606.0,821.5 1608.0,821.5 1610.0,821.5 1612.0,821.4 1614.0,821.4 1616.0,821.3 1618.0,821.3 1620.1,821.2 1622.1,821.1 1624.1,821.1 1626.1,821.0 1628.1,821.0 1630.1,820.9 1632.1,820.9 1634.1,820.9 1636.1,820.9 1638.0,820.9 1640.0,820.9 1642.0,821.0 1644.0,821.1 1646.0,821.2 1648.0,821.3 1650.0,821.4 1652.0,821.6 1654.0,821.8 1656.0,822.0 1657.9,822.2 1659.9,822.4 1661.9,822.6 1663.9,822.9 1665.9,823.1 1667.9,823.4 1669.8,823.6 1671.8,823.9 1673.8,824.2 1675.8,824.5 1677.8,824.8 1679.8,825.0 1681.7,825.3 1683.7,825.6 1685.7,825.9 1687.7,826.2 1689.7,826.4 1691.6,826.7 1693.6,827.0 1695.6,827.2 1697.6,827.5 1699.6,827.7 1701.6,828.0 1703.5,828.2 1705.5,828.5 1707.5,828.7 1709.5,829.0 1711.5,829.2 1713.5,829.5 1715.5,829.7 1717.4,829.9 1719.4,830.1 1721.4,830.4 1723.4,830.6 1725.4,830.8 1727.4,831.0 1729.4,831.3 1731.3,831.5 1733.3,831.7 1735.3,831.9 1737.3,832.1 1739.3,832.3 1741.3,832.5 1743.3,832.7 1745.3,832.9 1747.2,833.2 1749.2,833.4 1751.2,833.6 1753.2,833.8 1755.2,834.0 1757.2,834.2 1759.2,834.4 1761.2,834.6 1763.1,834.8 1765.1,835.0 1767.1,835.2 1769.1,835.4 1771.1,835.6 1773.1,835.8 1775.1,836.0 1777.1,836.2 1779.1,836.4 1781.1,836.6 1783.0,836.8 1785.0,837.0 1787.0,837.2 1789.0,837.4 1791.0,837.6 1793.0,837.6 1794.9,837.6 1796.9,837.6 1798.9,837.7 1800.8,837.7 1802.8,837.7 1804.7,837.7 1806.7,837.7 1808.7,837.8 1810.6,837.8 1812.6,837.8 1814.6,837.8 1816.5,837.8 1818.5,837.8 1820.4,837.8 1822.4,837.9 1824.4,837.9 1826.3,837.9 1828.3,837.9 1830.3,837.9 1832.2,837.9 1834.2,838.0 1836.2,838.0 1838.1,838.0 1840.1,838.0 1842.0,838.0 1844.0,838.0 1846.0,838.1 1847.9,838.1 1849.9,838.1" stroke="#008000"/>
<path d="M150.0,1121.1 152.0,1121.1 153.9,1121.1 155.9,1121.1 157.9,1121.1 159.9,1121.1 161.8,1121.1 163.8,1121.1 165.8,1121.1 167.7,1121.1 169.7,1121.1 171.7,1121.1 173.6,1121.1 175.6,1121.1 177.6,1121.1 179.6,1121.1 181.5,1121.1 183.5,1121.1 185.5,1121.1 187.4,1121.1 189.4,1121.1 191.4,1121.1 193.4,1121.1 195.3,1121.1 197.3,1121.1 199.3,1121.1 201.2,1121.1 203.2,1121.1 205.2,1121.1 207.1,1121.1 209.1,1121.1 211.1,1121.1 213.1,1121.1 215.0,1121.1 217.0,1121.1 219.0,1121.1 220.9,1121.1 222.9,1121.1 224.9,1121.1 226.9,1121.1 228.8,1121.1 230.8,1121.1 232.8,1121.1 234.7,1121.1 236.7,1121.1 238.7,1121.1 240.7,1121.1 242.6,1121.1 244.6,1121.1 246.6,1121.1 248.5,1121.1 250.5,1121.1 252.5,1121.1 254.4,1121.1 256.4,1121.1 258.4,1121.1 260.4,1121.1 262.3,1121.1 264.3,1121.1 266.3,1120.9 268.3,1120.7 270.3,1120.4 272.2,1120.2 274.2,1120.0 276.2,1119.8 278.2,1119.5 280.2,1119.3 282.2,1119.1 284.1,1118.8 286.1,1118.6 288.1,1118.4 290.1,1118.1 292.1,1117.9 294.1,1117.7 296.0,1117.4 298.0,1117.2 300.0,1117.0 302.0,1116.7 304.0,1116.5 306.0,1116.2 307.9,1116.0 309.9,1115.7 311.9,1115.5 313.9,1115.3 315.9,1115.0 317.9,1114.8 319.8,1114.5 321.8,1114.3 323.8,1114.0 325.8,1113.8 327.8,1113.5 329.8,1113.3 331.7,1113.0 333.7,1112.7 335.7,1112.5 337.7,1112.2 339.7,1112.0 341.6,1111.7 343.6,1111.4 345.6,1111.2 347.6,1110.9 349.5,1110.6 351.5,1110.4 353.5,1110.1 355.5,1109.8 357.4,1109.5 359.4,1109.2 361.4,1108.9 363.4,1108.6 365.3,1108.3 367.3,1107.9 369.3,1107.6 371.2,1107.2 373.2,1106.9 375.1,1106.5 377.1,1106.2 379.1,1105.8 381.0,1105.4 383.0,1105.0 384.9,1104.6 386.9,1104.1 388.8,1103.7 390.8,1103.3 392.7,1102.8 394.7,1102.3 396.6,1101.8 398.6,1101.3 400.5,1100.8 402.4,1100.3 404.4,1099.7 406.3,1099.1 408.2,1098.5 410.1,1097.9 412.0,1097.2 413.8,1096.5 415.7,1095.8 417.5,1095.0 419.3,1094.2 421.1,1093.4 422.9,1092.5 424.6,1091.5 426.4,1090.5 428.1,1089.5 429.7,1088.4 431.4,1087.3 433.0,1086.1 434.6,1085.0 436.1,1083.7 437.7,1082.4 439.2,1081.1 440.7,1079.8 442.2,1078.5 443.6,1077.1 445.0,1075.7 446.4,1074.2 447.8,1072.8 449.1,1071.3 450.5,1069.8 451.8,1068.3 453.1,1066.8 454.4,1065.3 455.7,1063.8 457.0,1062.2 458.3,1060.7 459.5,1059.2 460.8,1057.7 462.1,1056.1 463.4,1054.6 464.7,1053.1 466.0,1051.6 467.3,1050.1 468.6,1048.6 469.9,1047.0 471.1,1045.5 472.4,1043.9 473.6,1042.4 474.8,1040.8 476.0,1039.2 477.2,1037.6 478.4,1036.0 479.6,1034.3 480.7,1032.7 481.8,1031.1 483.0,1029.4 484.1,1027.8 485.2,1026.1 486.3,1024.5 487.5,1022.8 488.6,1021.1 489.7,1019.5 490.8,1017.8 491.9,1016.1 493.0,1014.5 494.1,1012.8 495.2,1011.2 496.3,1009.5 497.4,1007.8 498.6,1006.2 499.7,1004.5 500.9,1002.9 502.0,1001.3 503.2,999.7 504.3,998.0 505.5,996.4 506.7,994.9 508.0,993.3 509.2,991.7 510.4,990.2 511.7,988.6 513.0,987.1 514.3,985.6 515.6,984.1 517.0,982.6 518.4,981.2 519.8,979.7 521.2,978.3 522.6,977.0 524.1,975.6 525.7,974.3 527.2,973.1 528.8,972.0 530.5,970.9 532.2,969.8 534.0,968.9 535.8,968.0 537.7,967.3 539.6,966.6 541.5,966.1 543.5,965.7 545.5,965.6 547.5,965.6 549.4,965.8 551.4,966.2 553.3,966.8 555.1,967.5 556.9,968.3 558.7,969.3 560.5,970.3 562.2,971.4 563.8,972.5 565.5,973.7 567.0,975.0 568.6,976.2 570.1,977.5 571.6,978.9 573.1,980.2 574.5,981.6 575.9,983.0 577.3,984.4 578.7,985.8 580.1,987.2 581.5,988.6 583.0,990.1 584.4,991.5 585.8,992.9 587.2,994.3 588.7,995.7 590.1,997.0 591.6,998.4 593.1,999.7 594.6,1001.0 595.7,999.4 596.8,997.7 597.8,996.0 598.8,994.2 599.7,992.5 600.5,990.7 601.4,988.9 602.1,987.0 602.9,985.2 603.6,983.3 604.4,981.5 605.0,979.6 605.7,977.7 606.4,975.8 607.1,973.9 607.8,972.0 608.5,970.2 609.2,968.3 609.9,966.4 610.7,964.6 611.5,962.8 612.3,961.0 613.2,959.3 614.2,957.5 615.2,955.9 616.3,954.3 617.5,952.7 618.8,951.2 620.2,949.8 621.7,948.4 623.5,947.8 625.3,947.1 627.1,946.4 628.9,945.7 630.7,944.9 632.4,944.0 634.1,943.1 635.7,942.1 637.3,941.0 638.8,939.9 640.2,938.6 641.5,937.3 642.8,935.8 644.0,934.4 645.2,932.9 646.4,931.4 647.7,929.9 649.0,928.6 650.4,927.3 651.9,926.2 653.6,925.3 655.5,924.5 657.3,925.6 659.0,926.7 660.6,927.9 662.1,929.2 663.6,930.5 665.0,931.9 666.3,933.4 667.6,934.9 668.8,936.5 670.0,938.1 671.2,939.7 672.3,941.3 673.3,943.0 674.4,944.7 675.4,946.5 676.4,948.2 677.3,950.0 678.3,951.7 679.3,953.5 680.2,955.3 681.2,957.0 682.2,958.8 683.2,960.5 684.2,962.2 685.2,963.9 686.3,965.6 687.3,967.3 688.4,968.9 689.6,970.5 690.8,972.1 692.0,973.6 693.2,975.2 694.5,976.7 695.9,978.1 697.3,979.5 698.8,980.9 700.3,982.2 701.8,983.5 703.5,984.8 705.1,986.0 706.8,987.1 708.5,988.2 710.2,989.3 711.9,990.3 713.7,991.2 715.5,992.0 717.3,992.8 719.1,993.4 721.0,994.0 722.9,994.5 724.9,994.8 726.8,995.1 728.8,995.4 730.8,995.5 732.8,995.6 734.8,995.7 736.8,995.7 738.8,995.7 740.8,995.7 742.8,995.6 744.8,995.5 746.8,995.4 748.8,995.2 750.8,995.0 752.8,994.8 754.8,994.5 756.7,994.2 758.7,993.9 760.7,993.6 762.6,993.2 764.6,992.8 766.5,992.4 768.5,992.0 770.4,991.5 772.4,991.0 774.3,990.5 776.2,990.0 778.1,989.5 780.0,988.9 781.9,988.3 783.8,987.7 785.7,987.1 787.6,986.4 789.5,985.7 791.4,985.0 793.2,984.3 795.1,983.6 797.0,982.9 798.8,982.1 800.6,981.3 802.5,980.5 804.3,979.7 806.1,978.9 807.9,978.0 809.7,977.1 811.5,976.3 813.3,975.4 815.1,974.4 816.8,973.5 818.6,972.6 820.4,971.6 822.1,970.6 823.8,969.6 825.6,968.6 827.3,967.6 829.0,966.6 830.7,965.6 832.4,964.5 834.1,963.4 835.8,962.4 837.4,961.3 839.1,960.2 840.7,959.1 842.4,957.9 844.0,956.8 845.7,955.7 847.3,954.5 848.9,953.4 850.5,952.2 852.2,951.1 853.8,949.9 855.4,948.7 857.0,947.5 858.6,946.4 860.2,945.2 861.8,944.0 863.4,942.8 865.0,941.6 866.7,940.4 868.3,939.3 869.9,938.1 871.5,936.9 873.2,935.8 874.8,934.7 876.5,933.6 878.2,932.5 879.9,931.5 881.6,930.4 883.4,929.4 885.1,928.5 886.9,927.6 888.7,926.7 890.6,925.9 892.4,925.1 894.3,924.5 896.2,924.0 898.1,923.7 900.0,923.5 901.9,923.6 903.8,923.9 905.8,924.3 907.7,924.9 909.5,925.5 911.4,926.3 913.2,927.1 915.0,928.1 916.8,929.1 918.5,930.2 920.2,931.3 921.9,932.5 923.5,933.7 925.0,935.0 926.5,936.3 928.0,937.6 929.4,939.0 930.8,940.4 932.1,941.9 933.5,943.4 934.7,944.9 936.0,946.4 937.2,948.0 938.4,949.6 939.6,951.2 940.7,952.8 941.9,954.4 943.0,956.1 944.1,957.8 945.1,959.4 946.2,961.1 947.3,962.8 948.3,964.5 949.3,966.2 950.3,968.0 951.4,969.7 952.3,971.4 953.3,973.2 954.3,974.9 955.3,976.7 956.3,978.4 957.2,980.2 958.2,981.9 959.1,983.7 960.1,985.4 961.0,987.2 962.0,989.0 962.9,990.7 963.8,992.5 964.8,994.3 965.7,996.0 966.7,997.8 967.6,999.6 968.5,1001.3 969.5,1003.1 970.4,1004.8 971.4,1006.6 972.3,1008.3 973.3,1010.1 974.3,1011.8 975.2,1013.5 976.2,1015.3 977.2,1017.0 978.2,1018.7 979.3,1020.4 980.3,1022.1 981.4,1023.8 982.5,1025.5 983.5,1027.1 984.7,1028.8 985.8,1030.4 986.9,1032.1 988.1,1033.7 989.3,1035.3 990.5,1036.9 991.8,1038.5 993.0,1040.0 994.3,1041.6 995.6,1043.1 996.9,1044.6 998.3,1046.1 999.7,1047.6 1001.1,1049.0 1002.5,1050.4 1003.9,1051.8 1005.4,1053.1 1006.9,1054.4 1008.4,1055.7 1010.0,1057.0 1011.5,1058.2 1013.1,1059.4 1014.8,1060.5 1016.4,1061.6 1018.1,1062.7 1019.8,1063.7 1021.5,1064.7 1023.3,1065.7 1025.0,1066.6 1026.8,1067.4 1028.7,1068.3 1030.5,1069.0 1032.3,1069.8 1034.2,1070.5 1036.1,1071.2 1038.0,1071.8 1039.9,1072.4 1041.8,1073.0 1043.7,1073.5 1045.7,1074.0 1047.6,1074.4 1049.6,1074.8 1051.5,1075.2 1053.5,1075.6 1055.4,1075.9 1057.4,1076.2 1059.4,1076.5 1061.4,1076.7 1063.3,1077.0 1065.3,1077.2 1067.3,1077.4 1069.3,1077.6 1071.3,1077.8 1073.3,1078.0 1075.3,1078.2 1077.3,1078.4 1079.3,1078.5 1081.2,1078.7 1083.2,1078.9 1085.2,1079.1 1087.2,1079.3 1089.2,1079.5 1091.2,1079.7 1093.2,1079.9 1095.2,1080.1 1097.2,1080.3 1099.2,1080.6 1101.1,1080.8 1103.1,1081.0 1105.1,1081.2 1107.1,1081.4 1109.1,1081.6 1111.1,1081.8 1113.1,1082.1 1115.0,1082.3 1117.0,1082.5 1119.0,1082.7 1121.0,1082.9 1123.0,1083.1 1125.0,1083.3 1127.0,1083.5 1128.9,1083.7 1130.9,1083.9 1132.9,1084.1 1134.9,1084.3 1136.9,1084.5 1138.9,1084.7 1140.9,1084.9 1142.9,1085.0 1144.9,1085.2 1146.8,1085.4 1148.8,1085.6 1150.8,1085.7 1152.8,1085.9 1154.8,1086.1 1156.8,1086.2 1158.8,1086.4 1160.8,1086.5 1162.8,1086.7 1164.8,1086.9 1166.7,1087.0 1168.7,1087.2 1170.7,1087.3 1172.7,1087.4 1174.7,1087.6 1176.7,1087.7 1178.7,1087.9 1180.7,1088.0 1182.7,1088.1 1184.7,1088.2 1186.7,1088.4 1188.7,1088.5 1190.6,1088.6 1192.6,1088.7 1194.6,1088.8 1196.6,1089.0 1198.6,1089.1 1200.6,1089.2 1202.6,1089.3 1204.6,1089.4 1206.6,1089.5 1208.6,1089.6 1210.6,1089.7 1212.6,1089.8 1214.6,1089.8 1216.6,1089.9 1218.6,1090.0 1220.6,1090.1 1222.6,1090.2 1224.6,1090.2 1226.5,1090.3 1228.5,1090.4 1230.5,1090.4 1232.5,1090.5 1234.5,1090.6 1236.5,1090.6 1238.5,1090.7 1240.5,1090.7 1242.5,1090.8 1244.5,1090.8 1246.5,1090.9 1248.5,1090.9 1250.5,1091.0 1252.5,1091.0 1254.5,1091.0 1256.5,1091.1 1258.5,1091.1 1260.5,1091.1 1262.5,1091.1 1264.5,1091.2 1266.5,1091.2 1268.5,1091.2 1270.5,1091.2 1272.5,1091.2 1274.5,1091.2 1276.5,1091.2 1278.5,1091.2 1280.5,1091.2 1282.5,1091.2 1284.4,1091.2 1286.4,1091.2 1288.4,1091.2 1290.4,1091.2 1292.4,1091.1 1294.4,1091.1 1296.4,1091.1 1298.4,1091.1 1300.4,1091.0 1302.4,1091.0 1304.4,1091.0 1306.4,1090.9 1308.4,1090.9 1310.4,1090.8 1312.4,1090.8 1314.4,1090.7 1316.4,1090.7 1318.4,1090.6 1320.4,1090.6 1322.4,1090.5 1324.4,1090.4 1326.4,1090.4 1328.4,1090.3 1330.4,1090.2 1332.4,1090.1 1334.4,1090.0 1336.4,1090.0 1338.4,1089.9 1340.4,1089.8 1342.4,1089.7 1344.4,1089.5 1346.4,1089.4 1348.4,1089.3 1350.4,1089.2 1352.3,1089.1 1354.3,1088.9 1356.3,1088.8 1358.3,1088.6 1360.3,1088.5 1362.3,1088.3 1364.3,1088.2 1366.3,1088.0 1368.3,1087.8 1370.3,1087.6 1372.2,1087.4 1374.2,1087.2 1376.2,1087.0 1378.2,1086.8 1380.2,1086.6 1382.2,1086.4 1384.1,1086.2 1386.1,1085.9 1388.1,1085.7 1390.1,1085.4 1392.1,1085.2 1394.0,1084.9 1396.0,1084.6 1398.0,1084.3 1399.9,1084.0 1401.9,1083.7 1403.9,1083.4 1405.9,1083.1 1407.8,1082.8 1409.8,1082.4 1411.8,1082.1 1413.7,1081.8 1415.7,1081.4 1417.6,1081.0 1419.6,1080.7 1421.6,1080.3 1423.5,1079.9 1425.5,1079.5 1427.4,1079.1 1429.4,1078.7 1431.3,1078.3 1433.3,1077.8 1435.3,1077.4 1437.2,1077.0 1439.2,1076.5 1441.1,1076.1 1443.1,1075.6 1445.0,1075.2 1446.9,1074.7 1448.9,1074.3 1450.8,1073.8 1452.8,1073.3 1454.7,1072.8 1456.7,1072.4 1458.6,1071.9 1460.5,1071.4 1462.5,1070.9 1464.4,1070.4 1466.4,1069.9 1468.3,1069.4 1470.2,1068.9 1472.2,1068.4 1474.1,1067.9 1476.0,1067.4 1478.0,1066.9 1479.9,1066.4 1481.8,1065.8 1483.8,1065.3 1485.7,1064.8 1487.6,1064.3 1489.5,1063.8 1491.5,1063.3 1493.4,1062.7 1495.3,1062.2 1497.2,1061.7 1499.2,1061.2 1501.1,1060.7 1503.0,1060.1 1505.0,1059.6 1506.9,1059.1 1508.8,1058.6 1510.7,1058.1 1512.7,1057.6 1514.6,1057.1 1516.5,1056.5 1518.4,1056.0 1520.4,1055.5 1522.3,1055.0 1524.2,1054.5 1526.1,1054.0 1528.1,1053.5 1530.0,1053.1 1531.9,1052.6 1533.9,1052.1 1535.8,1051.6 1537.8,1051.1 1539.7,1050.7 1541.6,1050.2 1543.6,1049.7 1545.5,1049.3 1547.5,1048.8 1549.4,1048.4 1551.4,1048.0 1553.4,1047.5 1555.3,1047.1 1557.3,1046.7 1559.2,1046.3 1561.2,1045.9 1563.2,1045.5 1565.1,1045.2 1567.1,1044.8 1569.1,1044.5 1571.1,1044.2 1573.0,1043.9 1575.0,1043.6 1577.0,1043.3 1579.0,1043.1 1581.0,1042.9 1582.9,1042.7 1584.9,1042.6 1586.9,1042.4 1588.9,1042.3 1590.9,1042.3 1592.9,1042.2 1594.9,1042.2 1596.8,1042.3 1598.8,1042.3 1600.8,1042.4 1602.8,1042.5 1604.8,1042.6 1606.8,1042.8 1608.8,1042.9 1610.7,1043.1 1612.7,1043.4 1614.7,1043.6 1616.7,1043.8 1618.7,1044.1 1620.6,1044.4 1622.6,1044.7 1624.6,1045.0 1626.6,1045.3 1628.5,1045.7 1630.5,1046.0 1632.5,1046.4 1634.4,1046.7 1636.4,1047.1 1638.4,1047.5 1640.3,1047.8 1642.3,1048.2 1644.2,1048.6 1646.2,1049.0 1648.2,1049.5 1650.1,1049.9 1652.1,1050.3 1654.0,1050.7 1656.0,1051.1 1657.9,1051.6 1659.9,1052.0 1661.8,1052.4 1663.8,1052.8 1665.7,1053.3 1667.7,1053.7 1669.6,1054.1 1671.6,1054.5 1673.5,1054.9 1675.5,1055.4 1677.4,1055.8 1679.4,1056.2 1681.4,1056.6 1683.3,1057.0 1685.3,1057.4 1687.2,1057.8 1689.2,1058.2 1691.1,1058.6 1693.1,1059.0 1695.1,1059.4 1697.0,1059.8 1699.0,1060.2 1700.9,1060.6 1702.9,1061.0 1704.8,1061.4 1706.8,1061.7 1708.8,1062.1 1710.7,1062.5 1712.7,1062.9 1714.7,1063.2 1716.6,1063.6 1718.6,1064.0 1720.5,1064.3 1722.5,1064.7 1724.5,1065.1 1726.4,1065.4 1728.4,1065.8 1730.4,1066.1 1732.3,1066.5 1734.3,1066.8 1736.3,1067.2 1738.2,1067.5 1740.2,1067.9 1742.2,1068.2 1744.1,1068.5 1746.1,1068.9 1748.1,1069.2 1750.0,1069.5 1752.0,1069.8 1754.0,1070.2 1756.0,1070.5 1757.9,1070.8 1759.9,1071.1 1761.9,1071.4 1763.8,1071.7 1765.8,1072.1 1767.8,1072.4 1769.8,1072.7 1771.7,1073.0 1773.7,1073.3 1775.7,1073.6 1777.7,1073.8 1779.6,1074.1 1781.6,1074.4 1783.6,1074.7 1785.6,1075.0 1787.5,1075.3 1789.5,1075.5 1791.5,1075.8 1793.5,1076.1 1795.5,1076.4 1797.4,1076.6 1799.4,1076.9 1801.4,1077.2 1803.4,1077.4 1805.4,1077.7 1807.3,1077.9 1809.3,1078.2 1811.3,1078.4 1813.3,1078.7 1815.3,1078.9 1817.2,1079.1 1819.2,1079.4 1821.2,1079.6 1823.2,1079.9 1825.2,1080.1 1827.2,1080.3 1829.2,1080.5 1831.1,1080.8 1833.1,1081.0 1835.1,1081.2 1837.1,1081.4 1839.1,1081.6 1841.1,1081.8 1843.1,1082.0 1845.0,1082.2 1847.0,1082.4 1849.0,1082.6 1851.0,1082.8 1853.0,1083.0" stroke="#ff00ff"/>
<path d="M150.0,1281.0 152.0,1281.0 154.0,1281.0 156.0,1281.0 158.0,1281.0 160.0,1281.0 162.0,1281.1 164.0,1281.1 166.0,1281.1 168.0,1281.1 170.0,1281.1 172.0,1281.1 174.0,1281.1 176.0,1281.1 178.0,1281.1 180.0,1281.1 182.0,1281.1 184.0,1281.1 186.0,1281.1 187.9,1281.1 189.9,1281.1 191.9,1281.1 193.9,1281.1 195.9,1281.1 197.9,1281.1 199.9,1281.1 201.9,1281.1 203.9,1281.1 205.9,1281.1 207.9,1281.1 209.9,1281.1 211.9,1281.1 213.9,1281.1 215.9,1281.1 217.9,1281.1 219.9,1281.1 221.9,1281.1 223.9,1281.1 225.9,1281.1 227.9,1281.1 229.9,1281.1 231.9,1281.1 233.9,1281.0 235.9,1281.0 237.9,1281.0 239.9,1281.0 241.9,1281.0 243.9,1281.0 245.9,1281.0 247.9,1281.0 249.8,1281.0 251.8,1281.0 253.8,1281.0 255.8,1281.0 257.8,1281.0 259.8,1281.0 261.8,1281.0 263.8,1281.0 265.8,1281.0 267.8,1281.0 269.8,1281.0 271.8,1281.0 273.8,1281.0 275.8,1281.0 277.8,1281.0 279.8,1281.0 281.8,1281.0 283.8,1281.0 285.8,1281.0 287.8,1280.9 289.8,1280.9 291.8,1280.9 293.8,1280.9 295.8,1280.9 297.8,1280.9 299.8,1280.9 301.8,1280.9 303.8,1280.9 305.8,1281.0 307.8,1281.0 309.8,1281.0 311.8,1281.0 313.7,1281.0 315.7,1281.0 317.7,1281.0 319.7,1281.0 321.7,1281.0 323.7,1281.0 325.7,1281.0 327.7,1281.0 329.7,1281.0 331.7,1281.0 333.7,1281.0 335.7,1281.0 337.7,1281.0 339.7,1281.1 341.7,1281.1 343.7,1281.1 345.7,1281.1 347.7,1281.1 349.7,1281.1 351.7,1281.1 353.7,1281.1 355.7,1281.1 357.7,1281.2 359.7,1281.2 361.7,1281.2 363.7,1281.2 365.7,1281.2 367.7,1281.2 369.7,1281.2 371.7,1281.2 373.7,1281.2 375.7,1281.2 377.7,1281.2 379.7,1281.2 381.7,1281.2 383.7,1281.2 385.7,1281.2 387.7,1281.2 389.7,1281.2 391.6,1281.2 393.6,1281.2 395.6,1281.2 397.6,1281.2 399.6,1281.2 401.6,1281.2 403.6,1281.2 405.6,1281.2 407.6,1281.2 409.6,1281.2 411.6,1281.1 413.6,1281.1 415.6,1281.1 417.6,1281.1 419.6,1281.1 421.6,1281.0 423.6,1281.0 425.6,1281.0 427.6,1280.9 429.6,1280.9 431.6,1280.9 433.6,1280.8 435.6,1280.8 437.6,1280.7 439.6,1280.7 441.6,1280.6 443.6,1280.6 445.6,1280.5 447.5,1280.5 449.5,1280.4 451.5,1280.3 453.5,1280.3 455.5,1280.2 457.5,1280.1 459.5,1280.0 461.5,1280.0 463.5,1279.9 465.5,1279.8 467.5,1279.7 469.5,1279.6 471.5,1279.5 473.5,1279.4 475.5,1279.3 477.5,1279.2 479.5,1279.1 481.4,1279.0 483.4,1278.9 485.4,1278.7 487.4,1278.6 489.4,1278.5 491.4,1278.3 493.4,1278.2 495.4,1278.1 497.4,1277.9 499.4,1277.8 501.4,1277.6 503.4,1277.4 505.4,1277.3 507.3,1277.1 509.3,1277.0 511.3,1276.8 513.3,1276.7 515.3,1276.5 517.3,1276.4 519.3,1276.3 521.3,1276.1 523.3,1276.0 525.3,1275.9 527.3,1275.8 529.3,1275.7 531.2,1275.6 533.2,1275.6 535.2,1275.5 537.2,1275.4 539.2,1275.4 541.2,1275.4 543.2,1275.4 545.2,1275.4 547.2,1275.4 549.2,1275.4 551.2,1275.4 553.2,1275.5 555.2,1275.5 557.2,1275.5 559.2,1275.6 561.2,1275.7 563.2,1275.7 565.2,1275.8 567.2,1275.9 569.2,1276.0 571.2,1276.1 573.1,1276.2 575.1,1276.2 577.1,1276.3 579.1,1276.4 581.1,1276.6 583.1,1276.7 585.1,1276.8 587.1,1276.9 589.1,1277.0 591.1,1277.1 593.1,1277.2 595.1,1277.3 597.1,1277.4 599.1,1277.5 601.1,1277.7 603.1,1277.8 605.1,1277.9 607.1,1278.0 609.1,1278.1 611.1,1278.2 613.1,1278.3 615.1,1278.4 617.1,1278.5 619.1,1278.5 621.1,1278.6 623.1,1278.7 625.0,1278.8 627.0,1278.8 629.0,1278.9 631.0,1278.9 633.0,1279.0 635.0,1279.0 637.0,1279.1 639.0,1279.1 641.0,1279.1 643.0,1279.1 645.0,1279.1 647.0,1279.1 649.0,1279.1 651.0,1279.0 653.0,1279.0 655.0,1279.0 657.0,1278.9 658.9,1278.8 660.9,1278.8 662.9,1278.7 664.9,1278.6 666.9,1278.5 668.9,1278.4 670.9,1278.3 672.9,1278.2 674.9,1278.1 676.9,1278.0 678.9,1277.9 680.9,1277.8 682.9,1277.6 684.9,1277.5 686.8,1277.4 688.8,1277.2 690.8,1277.1 692.8,1276.9 694.8,1276.8 696.8,1276.7 698.8,1276.5 700.8,1276.4 702.8,1276.2 704.8,1276.1 706.8,1275.9 708.8,1275.8 710.8,1275.6 712.8,1275.5 714.7,1275.3 716.7,1275.2 718.7,1275.0 720.7,1274.9 722.7,1274.8 724.7,1274.6 726.7,1274.5 728.7,1274.3 730.7,1274.2 732.7,1274.1 734.7,1274.0 736.7,1273.9 738.7,1273.7 740.7,1273.6 742.7,1273.5 744.7,1273.4 746.7,1273.3 748.7,1273.2 750.7,1273.1 752.7,1273.0 754.7,1272.9 756.7,1272.8 758.6,1272.7 760.6,1272.6 762.6,1272.5 764.6,1272.4 766.6,1272.3 768.6,1272.1 770.6,1272.0 772.6,1271.9 774.6,1271.7 776.6,1271.6 778.6,1271.4 780.5,1271.2 782.5,1271.0 784.5,1270.8 786.5,1270.6 788.5,1270.4 790.5,1270.1 792.4,1269.9 794.4,1269.7 796.4,1269.4 798.4,1269.1 800.4,1268.9 802.3,1268.6 804.3,1268.3 806.3,1268.1 808.3,1267.8 810.2,1267.5 812.2,1267.3 814.2,1267.0 816.2,1266.7 818.2,1266.5 820.1,1266.2 822.1,1266.0 824.1,1265.7 826.1,1265.5 828.1,1265.3 830.0,1265.0 832.0,1264.8 834.0,1264.6 836.0,1264.3 838.0,1264.1 840.0,1263.9 841.9,1263.7 843.9,1263.5 845.9,1263.2 847.9,1263.0 849.9,1262.8 851.9,1262.6 853.9,1262.4 855.9,1262.2 857.8,1262.0 859.8,1261.8 861.8,1261.6 863.8,1261.4 865.8,1261.2 867.8,1261.0 869.8,1260.8 871.8,1260.6 873.8,1260.4 875.8,1260.2 877.7,1260.0 879.7,1259.8 881.7,1259.6 883.7,1259.4 885.7,1259.2 887.7,1259.0 889.7,1258.8 891.7,1258.6 893.7,1258.4 895.6,1258.2 897.6,1258.0 899.6,1257.8 901.6,1257.6 903.6,1257.4 905.6,1257.2 907.6,1257.0 909.6,1256.8 911.5,1256.6 913.5,1256.4 915.5,1256.2 917.5,1255.9 919.5,1255.7 921.5,1255.5 923.5,1255.3 925.4,1255.0 927.4,1254.8 929.4,1254.5 931.4,1254.3 933.4,1254.1 935.3,1253.8 937.3,1253.6 939.3,1253.3 941.3,1253.0 943.3,1252.8 945.2,1252.5 947.2,1252.2 949.2,1251.9 951.2,1251.7 953.1,1251.4 955.1,1251.1 957.1,1250.8 959.1,1250.5 961.0,1250.2 963.0,1249.9 965.0,1249.5 966.9,1249.2 968.9,1248.9 970.9,1248.5 972.8,1248.2 974.8,1247.8 976.8,1247.5 978.7,1247.1 980.7,1246.7 982.6,1246.4 984.6,1246.0 986.5,1245.6 988.5,1245.2 990.5,1244.8 992.4,1244.4 994.4,1244.0 996.3,1243.5 998.3,1243.1 1000.2,1242.7 1002.2,1242.2 1004.1,1241.8 1006.0,1241.3 1008.0,1240.9 1009.9,1240.4 1011.9,1240.0 1013.8,1239.5 1015.7,1239.0 1017.7,1238.5 1019.6,1238.0 1021.5,1237.5 1023.5,1237.0 1025.4,1236.5 1027.3,1236.0 1029.3,1235.4 1031.2,1234.9 1033.1,1234.4 1035.0,1233.8 1036.9,1233.3 1038.9,1232.7 1040.8,1232.1 1042.7,1231.6 1044.6,1231.0 1046.5,1230.4 1048.4,1229.8 1050.3,1229.2 1052.2,1228.6 1054.1,1228.0 1056.0,1227.4 1057.9,1226.8 1059.8,1226.2 1061.7,1225.6 1063.6,1224.9 1065.5,1224.3 1067.4,1223.6 1069.3,1223.0 1071.2,1222.3 1073.1,1221.7 1075.0,1221.0 1076.8,1220.3 1078.7,1219.6 1080.6,1218.9 1082.5,1218.2 1084.3,1217.5 1086.2,1216.8 1088.1,1216.1 1089.9,1215.4 1091.8,1214.7 1093.7,1214.0 1095.5,1213.2 1097.4,1212.5 1099.2,1211.7 1101.1,1211.0 1102.9,1210.2 1104.8,1209.5 1106.6,1208.7 1108.5,1207.9 1110.3,1207.2 1112.1,1206.4 1114.0,1205.6 1115.8,1204.8 1117.6,1204.0 1119.5,1203.2 1121.3,1202.4 1123.1,1201.5 1124.9,1200.7 1126.7,1199.9 1128.5,1199.1 1130.4,1198.2 1132.2,1197.4 1134.0,1196.5 1135.8,1195.7 1137.6,1194.8 1139.4,1194.0 1141.2,1193.2 1143.1,1192.3 1144.9,1191.5 1146.7,1190.7 1148.5,1189.9 1150.4,1189.1 1152.2,1188.3 1154.0,1187.5 1155.9,1186.8 1157.7,1186.0 1159.6,1185.3 1161.5,1184.6 1163.4,1183.9 1165.2,1183.2 1167.1,1182.5 1169.0,1181.9 1170.9,1181.2 1172.8,1180.6 1174.7,1179.9 1176.5,1179.3 1178.4,1178.6 1180.3,1177.9 1182.1,1177.3 1183.9,1176.6 1185.7,1175.9 1187.6,1175.3 1189.4,1174.6 1191.2,1173.9 1193.1,1173.3 1194.9,1172.6 1196.8,1172.0 1198.7,1171.4 1200.7,1170.8 1202.6,1170.2 1204.6,1169.6 1206.5,1169.1 1208.5,1168.6 1210.5,1168.1 1212.5,1167.6 1214.5,1167.2 1216.6,1166.8 1218.6,1166.4 1220.6,1166.1 1222.6,1165.8 1224.7,1165.5 1226.7,1165.3 1228.7,1165.1 1230.7,1165.0 1232.7,1164.9 1234.7,1164.9 1236.7,1164.9 1238.7,1165.0 1240.7,1165.1 1242.7,1165.2 1244.6,1165.5 1246.5,1165.8 1248.4,1166.1 1250.3,1166.5 1252.2,1167.0 1254.0,1167.5 1255.9,1168.2 1257.7,1168.8 1259.4,1169.6 1261.2,1170.4 1262.9,1171.3 1264.6,1172.2 1266.3,1173.2 1268.0,1174.2 1269.6,1175.3 1271.2,1176.5 1272.8,1177.7 1274.4,1178.9 1275.9,1180.2 1277.5,1181.5 1279.0,1182.8 1280.5,1184.2 1282.0,1185.6 1283.4,1187.0 1284.9,1188.4 1286.4,1189.9 1287.8,1191.3 1289.2,1192.8 1290.6,1194.3 1292.0,1195.8 1293.4,1197.3 1294.8,1198.8 1296.2,1200.3 1297.5,1201.8 1298.9,1203.2 1300.2,1204.7 1301.6,1206.2 1302.9,1207.6 1304.2,1209.1 1305.6,1210.5 1306.9,1212.0 1308.2,1213.4 1309.6,1214.8 1310.9,1216.3 1312.2,1217.7 1313.6,1219.1 1314.9,1220.6 1316.3,1222.0 1317.6,1223.4 1319.0,1224.8 1320.4,1226.3 1321.7,1227.7 1323.1,1229.1 1324.5,1230.5 1325.9,1231.9 1327.3,1233.4 1328.7,1234.8 1330.2,1236.2 1331.6,1237.6 1333.1,1239.1 1334.6,1240.5 1335.9,1242.1 1337.4,1243.4 1339.1,1244.4 1340.8,1245.2 1342.6,1245.8 1344.5,1246.4 1346.4,1246.9 1348.3,1247.5 1350.2,1248.1 1352.1,1248.7 1354.0,1249.4 1355.8,1250.0 1357.7,1250.7 1359.6,1251.4 1361.4,1252.1 1363.3,1252.8 1365.2,1253.4 1367.1,1254.1 1369.0,1254.7 1370.8,1255.3 1372.7,1255.9 1374.6,1256.5 1376.5,1257.1 1378.4,1257.6 1380.4,1258.1 1382.3,1258.6 1384.2,1259.1 1386.1,1259.6 1388.1,1260.0 1390.0,1260.4 1392.0,1260.7 1393.9,1261.1 1395.9,1261.4 1397.8,1261.7 1399.8,1262.0 1401.8,1262.3 1403.7,1262.5 1405.7,1262.8 1407.7,1263.0 1409.7,1263.2 1411.6,1263.4 1413.6,1263.6 1415.6,1263.7 1417.6,1263.9 1419.6,1264.1 1421.6,1264.2 1423.5,1264.4 1425.5,1264.5 1427.5,1264.7 1429.5,1264.8 1431.5,1265.0 1433.4,1265.1 1435.4,1265.3 1437.3,1264.7 1439.2,1264.2 1441.1,1263.6 1443.0,1263.0 1445.0,1262.4 1446.9,1261.8 1448.8,1261.1 1450.7,1260.5 1452.6,1259.9 1454.4,1259.2 1456.3,1258.6 1458.2,1257.9 1460.1,1257.3 1462.0,1256.6 1463.9,1255.9 1465.8,1255.3 1467.7,1254.6 1469.5,1253.9 1471.4,1253.2 1473.3,1252.5 1475.2,1251.8 1477.0,1251.1 1478.9,1250.4 1480.8,1249.7 1482.7,1249.0 1484.5,1248.3 1486.4,1247.6 1488.3,1246.9 1490.1,1246.2 1492.0,1245.5 1493.9,1244.8 1495.7,1244.0 1497.6,1243.3 1499.5,1242.6 1501.3,1241.9 1503.2,1241.1 1505.0,1240.4 1506.9,1239.7 1508.7,1238.9 1510.6,1238.2 1512.4,1237.4 1514.3,1236.6 1516.1,1235.9 1518.0,1235.1 1519.8,1234.3 1521.7,1233.6 1523.5,1232.8 1525.3,1232.0 1527.2,1231.2 1529.0,1230.4 1530.8,1229.6 1532.6,1228.8 1534.5,1227.9 1536.3,1227.1 1538.1,1226.3 1539.9,1225.5 1541.8,1224.6 1543.6,1223.8 1545.4,1223.0 1547.2,1222.2 1549.1,1221.4 1550.9,1220.5 1552.7,1219.7 1554.5,1218.9 1556.4,1218.1 1558.2,1217.4 1560.1,1216.6 1561.9,1215.8 1563.8,1215.1 1565.6,1214.3 1567.5,1213.6 1569.3,1212.9 1571.2,1212.2 1573.1,1211.6 1575.0,1210.9 1576.8,1210.3 1578.7,1209.6 1580.6,1209.0 1582.6,1208.5 1584.5,1207.9 1586.4,1207.4 1588.3,1206.9 1590.3,1206.4 1592.2,1205.9 1594.2,1205.5 1596.1,1205.1 1598.1,1204.7 1600.1,1204.3 1602.1,1204.0 1604.1,1203.7 1606.0,1203.4 1608.0,1203.1 1610.0,1202.8 1612.0,1202.6 1614.0,1202.4 1616.0,1202.2 1618.0,1202.0 1620.0,1201.9 1622.0,1201.7 1623.9,1201.6 1625.9,1201.6 1627.9,1201.5 1629.9,1201.5 1631.9,1201.6 1633.9,1201.7 1635.9,1201.8 1637.8,1201.9 1639.8,1202.2 1641.8,1202.4 1643.8,1202.7 1645.7,1203.0 1647.7,1203.4 1649.7,1203.7 1651.6,1204.2 1653.6,1204.6 1655.5,1205.1 1657.5,1205.6 1659.4,1206.1 1661.4,1206.6 1663.3,1207.1 1665.2,1207.7 1667.2,1208.3 1669.1,1208.9 1671.0,1209.5 1672.9,1210.1 1674.8,1210.7 1676.7,1211.3 1678.6,1212.0 1680.4,1212.6 1682.3,1213.3 1684.2,1214.0 1686.1,1214.7 1687.9,1215.4 1689.8,1216.1 1691.7,1216.8 1693.5,1217.5 1695.4,1218.2 1697.2,1219.0 1699.1,1219.7 1700.9,1220.5 1702.8,1221.2 1704.6,1222.0 1706.5,1222.7 1708.3,1223.5 1710.2,1224.3 1712.0,1225.1 1713.8,1225.8 1715.7,1226.6 1717.5,1227.4 1719.4,1228.2 1721.2,1229.0 1723.0,1229.8 1724.9,1230.6 1726.7,1231.3 1728.6,1232.1 1730.4,1232.9 1732.2,1233.7 1734.1,1234.5 1735.9,1235.2 1737.8,1236.0 1739.6,1236.8 1741.5,1237.5 1743.3,1238.3 1745.2,1239.0 1747.0,1239.8 1748.9,1240.5 1750.8,1241.3 1752.6,1242.0 1754.5,1242.7 1756.4,1243.4 1758.2,1244.2 1760.1,1244.9 1762.0,1245.6 1763.8,1246.3 1765.7,1247.0 1767.6,1247.7 1769.5,1248.3 1771.4,1249.0 1773.2,1249.7 1775.1,1250.4 1777.0,1251.1 1778.9,1251.7 1780.8,1252.4 1782.7,1253.0 1784.5,1253.7 1786.4,1254.3 1788.3,1255.0 1790.2,1255.6 1792.1,1256.3 1794.0,1256.9 1795.9,1257.5 1797.8,1258.2 1799.7,1258.8 1801.6,1259.4 1803.5,1260.0 1805.4,1260.6 1807.3,1261.1 1809.2,1261.6 1811.1,1262.1 1813.1,1262.5 1815.0,1262.9 1817.0,1263.1 1819.0,1263.3 1821.0,1263.4 1823.0,1263.5 1825.0,1263.5 1827.0,1263.5 1829.1,1263.5 1831.1,1263.5 1833.1,1263.6 1835.1,1263.7 1837.1,1263.9 1839.1,1264.1 1841.0,1264.3 1843.0,1264.4 1845.0,1264.6 1847.0,1264.8 1849.0,1264.9 1851.0,1265.0" stroke="#000000"/>
</g>
<line x1="1630" y1="390" x2="1630" y2="1215" stroke="#000" stroke-width="4" stroke-dasharray="16 12.88"/>
<g stroke="#000" fill="#000">
<line x1="481" y1="82.6" x2="442" y2="69.5" stroke-width="2.6"/>
<polygon points="425,62.3 450.2,65.6 443.6,70.2 445,77" stroke="none"/>
</g>
<g font-family="Liberation Sans, Arial, sans-serif" font-size="100" fill="#000" style="font-kerning:none" filter="url(#bin)">
<text transform="matrix(0.6696 0 0 0.7141 213.09 1394.99)">100</text>
<text transform="matrix(0.6941 0 0 0.7141 436.20 1394.99)">200</text>
<text transform="matrix(0.6842 0 0 0.7141 663.92 1394.99)">300</text>
<text transform="matrix(0.6829 0 0 0.7141 889.23 1394.99)">400</text>
<text transform="matrix(0.6852 0 0 0.7141 1115.15 1394.99)">500</text>
<text transform="matrix(0.6905 0 0 0.7141 1341.08 1394.99)">600</text>
<text transform="matrix(0.6844 0 0 0.7141 1567.59 1394.99)">700</text>
<text transform="matrix(0.6804 0 0 0.7129 1795.04 1394.99)">800</text>
<text transform="matrix(0.5988 0 0 0.6479 492.33 101.25)">160</text>
<text transform="matrix(0.6059 0 0 0.6465 244.28 284.25)">130</text>
<text transform="matrix(0.6259 0 0 0.6662 1094.31 447.53)">CuO/CeO</text>
<text transform="matrix(0.4479 0 0 0.4429 1368.54 464.10)">2</text>
<text transform="matrix(0.6159 0 0 0.6465 1647.64 432.35)">710</text>
<text transform="matrix(0.6301 0 0 0.6535 584.42 538.55)">260</text>
<text transform="matrix(0.6135 0 0 0.6479 438.82 677.05)">195</text>
<text transform="matrix(0.6224 0 0 0.6577 1109.79 764.04)">NiO/CeO</text>
<text transform="matrix(0.4369 0 0 0.4457 1361.80 781.00)">2</text>
<text transform="matrix(0.6320 0 0 0.6493 483.62 921.25)">220</text>
<text transform="matrix(0.6238 0 0 0.6493 627.46 903.45)">270</text>
<text transform="matrix(0.6200 0 0 0.6468 861.67 906.05)">380</text>
<text transform="matrix(0.6351 0 0 0.6577 1078.77 997.34)">Co</text>
<text transform="matrix(0.4167 0 0 0.4225 1160.17 1013.28)">3</text>
<text transform="matrix(0.6168 0 0 0.6577 1182.97 997.34)">O</text>
<text transform="matrix(0.3949 0 0 0.4275 1232.39 1013.60)">4</text>
<text transform="matrix(0.6215 0 0 0.6577 1255.81 997.34)">/CeO</text>
<text transform="matrix(0.4501 0 0 0.4286 1400.43 1013.70)">2</text>
<text transform="matrix(0.6291 0 0 0.6493 1503.60 1015.35)">690</text>
<text transform="matrix(0.6166 0 0 0.6465 1181.44 1152.15)">530</text>
<text transform="matrix(0.6234 0 0 0.6437 1644.70 1169.16)">705</text>
<text transform="matrix(0.6227 0 0 0.6648 200.73 1246.34)">CeO</text>
<text transform="matrix(0.4435 0 0 0.4457 328.57 1263.00)">2</text>
<text transform="matrix(0.6289 0 0 0.6586 706.27 1237.34)">X 3</text>
<text transform="matrix(0.6146 0 0 0.6036 1163.41 1469.30)">o</text>
<text transform="matrix(0.8863 0 0 0.9099 609.00 1504.80)">T</text>
<text transform="matrix(0.8793 0 0 0.8507 662.05 1504.04)">emperature</text>
<text transform="matrix(0.8389 0 0 0.8545 1134.79 1503.85)">(</text>
<text transform="matrix(0.8900 0 0 0.9197 1196.27 1505.28)">C</text>
<text transform="matrix(0.8364 0 0 0.8545 1262.23 1503.85)">)</text>
<text transform="matrix(0 -0.8916 0.9130 0 81.00 1085.12)">H</text>
<text transform="matrix(0 -0.6038 0.5986 0 104.00 1021.54)">2</text>
<text transform="matrix(0 -0.8801 0.8745 0 81.33 962.25)">consumption (a.u.)</text>
</g>
</svg>
</body></html>
